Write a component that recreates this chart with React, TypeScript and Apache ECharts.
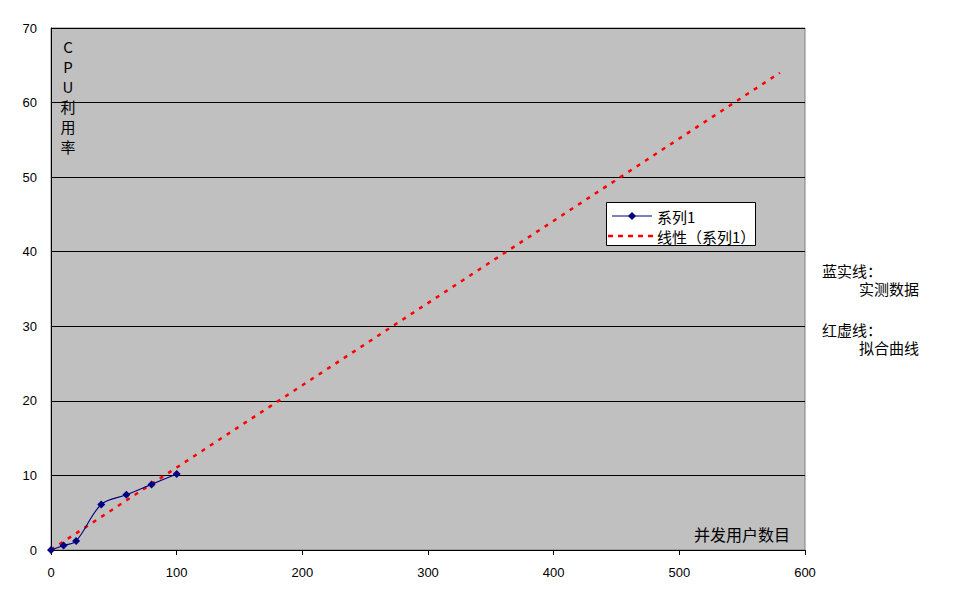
import React, { useEffect, useRef } from "react";
import * as echarts from "echarts";

const usersX = [0, 10, 20, 40, 60, 80, 100];
const cpuY = [0, 0.6, 1.2, 6.1, 7.4, 8.8, 10.2];
const trendX = [0, 580];
const trendY = [0.03, 64.0];
const seriesNames = ["系列1", "线性（系列1）"];
const yAxisTitle = ["C", "P", "U", "利", "用", "率"];
const xAxisTitle = "并发用户数目";
const noteLines = ["蓝实线：", "实测数据", "红虚线：", "拟合曲线"];

export default function App() {
  const ref = useRef<HTMLDivElement>(null);
  useEffect(() => {
    document.body.style.margin = "0";
    const chart = echarts.init(ref.current!, null, { renderer: "svg" });
    const cjk = '"Noto Sans CJK SC", sans-serif';
    const latin = '"Liberation Sans", Arial, sans-serif';
    const lgX = 606;
    const lgY = 202;
    chart.setOption({
      animation: false,
      backgroundColor: "#ffffff",
      grid: {
        left: 51,
        top: 28,
        width: 754,
        height: 522,
        show: true,
        backgroundColor: "#C0C0C0",
        borderColor: "#808080",
        borderWidth: 1,
      },
      xAxis: {
        type: "value",
        min: 0,
        max: 600,
        interval: 100,
        axisLine: { show: true, onZero: false, lineStyle: { color: "#000", width: 1 } },
        axisTick: { show: true, length: 5, lineStyle: { color: "#000" } },
        axisLabel: { margin: 16, fontFamily: latin, fontSize: 13, color: "#000" },
        splitLine: { show: false },
      },
      yAxis: {
        type: "value",
        min: 0,
        max: 70,
        interval: 10,
        axisLine: { show: true, onZero: false, lineStyle: { color: "#000", width: 1 } },
        axisTick: { show: false },
        axisLabel: { margin: 14, fontFamily: latin, fontSize: 13, color: "#000" },
        splitLine: { show: true, lineStyle: { color: "#000", width: 1 } },
      },
      series: [
        {
          name: seriesNames[0],
          type: "line",
          data: usersX.map((x, i) => [x, cpuY[i]]),
          smooth: 0.35,
          symbol: "diamond",
          symbolSize: 8,
          itemStyle: { color: "#000080" },
          lineStyle: { color: "#000080", width: 1.1 },
          z: 3,
        },
        {
          name: seriesNames[1],
          type: "line",
          data: trendX.map((x, i) => [x, trendY[i]]),
          symbol: "none",
          itemStyle: { color: "#FF0000" },
          lineStyle: { color: "#FF0000", width: 2.5, type: [4, 6] },
          z: 2,
        },
      ],
      graphic: [
        {
          type: "rect",
          shape: { x: lgX + 0.5, y: lgY + 0.5, width: 149, height: 43 },
          style: { fill: "#ffffff", stroke: "#000000", lineWidth: 1 },
          z: 10,
        },
        {
          type: "line",
          shape: { x1: lgX + 6, y1: lgY + 14, x2: lgX + 46, y2: lgY + 14 },
          style: { stroke: "#000080", lineWidth: 1 },
          z: 11,
        },
        {
          type: "polygon",
          shape: {
            points: [
              [lgX + 26, lgY + 10],
              [lgX + 30, lgY + 14],
              [lgX + 26, lgY + 18],
              [lgX + 22, lgY + 14],
            ],
          },
          style: { fill: "#000080" },
          z: 11,
        },
        {
          type: "line",
          shape: { x1: lgX + 2, y1: lgY + 34, x2: lgX + 48, y2: lgY + 34 },
          style: { stroke: "#FF0000", lineWidth: 2.5, lineDash: [5, 5] },
          z: 11,
        },
        {
          type: "text",
          x: lgX + 51,
          y: lgY + 14,
          style: { text: seriesNames[0], font: `15px ${cjk}`, fill: "#000", verticalAlign: "middle" },
          z: 11,
        },
        {
          type: "text",
          x: lgX + 51,
          y: lgY + 34,
          style: { text: seriesNames[1], font: `15px ${cjk}`, fill: "#000", verticalAlign: "middle" },
          z: 11,
        },
        {
          type: "text",
          x: 68,
          y: 36,
          style: {
            text: yAxisTitle.join("\n"),
            font: `15px ${cjk}`,
            lineHeight: 20,
            align: "center",
            verticalAlign: "top",
            fill: "#000",
          },
        },
        {
          type: "text",
          x: 694,
          y: 534,
          style: { text: xAxisTitle, font: `16px ${cjk}`, fill: "#000", verticalAlign: "middle" },
        },
        { type: "text", x: 822, y: 270, style: { text: noteLines[0], font: `15px ${cjk}`, fill: "#000", verticalAlign: "middle" } },
        { type: "text", x: 859, y: 288, style: { text: noteLines[1], font: `15px ${cjk}`, fill: "#000", verticalAlign: "middle" } },
        { type: "text", x: 822, y: 329, style: { text: noteLines[2], font: `15px ${cjk}`, fill: "#000", verticalAlign: "middle" } },
        { type: "text", x: 859, y: 347, style: { text: noteLines[3], font: `15px ${cjk}`, fill: "#000", verticalAlign: "middle" } },
      ],
    });
    return () => chart.dispose();
  }, []);
  return <div ref={ref} style={{ width: 977, height: 600 }} />;
}
